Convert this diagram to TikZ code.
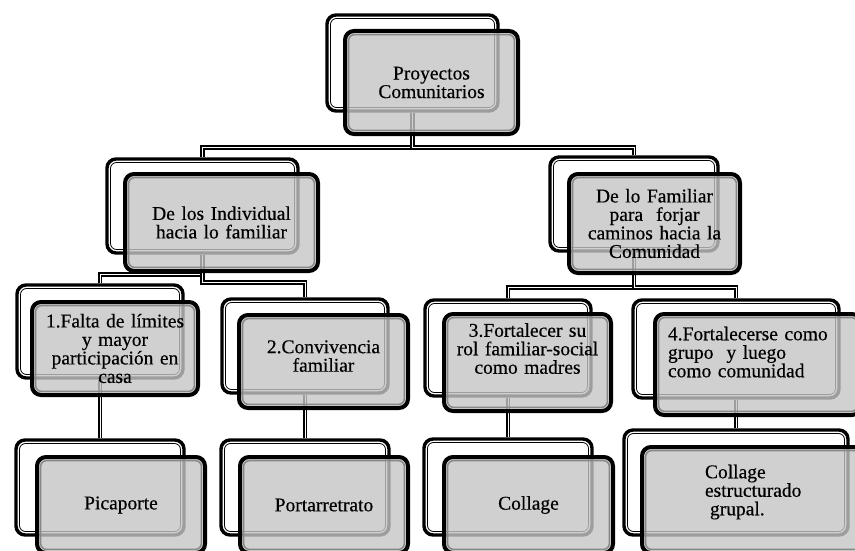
\documentclass[tikz,border=0pt]{standalone}
\usepackage{fontspec}
\setmainfont{Liberation Serif}[FakeBold=0.4]
\usepackage{xcolor}
\usetikzlibrary{positioning}
\definecolor{boxgray}{RGB}{197,197,197}
\definecolor{rimgray}{RGB}{135,135,135}

\begin{document}
\begin{tikzpicture}[x=1pt, y=-1pt,
    every node/.style={font=\fontsize{19.5}{18.5}\selectfont, inner xsep=4pt, inner ysep=3pt},
    boxsize/.style 2 args={minimum width=#1pt, minimum height=#2pt},
    backframe/.style={draw=black, line width=3.4pt, fill=white, rounded corners=9pt},
    frontbox/.style={draw=black, line width=4pt, fill=boxgray, fill opacity=.8, text opacity=1, rounded corners=9pt, align=center},
    backrim/.style={draw=black, line width=.8pt, rounded corners=6pt},
    frontrim/.style={draw=rimgray, line width=1.5pt, rounded corners=6pt},
    link/.style={draw=black, line width=1.8pt, double=white, double distance=.9pt}]
    \useasboundingbox (0,0) rectangle (855,551);
    \clip (0,0) rectangle (855,551);

    % Back frames (white, double border)
    \node[backframe, boxsize={171}{96}] (topb) at (412.5,63) {};
    \node[backframe, boxsize={191}{94}] (indb) at (202.5,206) {};
    \node[backframe, boxsize={168}{94}] (famb) at (634,204) {};
    \node[backframe, boxsize={166}{93}] (f1b) at (100,331.5) {};
    \node[backframe, boxsize={166}{94}] (f2b) at (305,346) {};
    \node[backframe, boxsize={166}{96}] (f3b) at (508,348) {};
    \node[backframe, boxsize={206}{98}] (f4b) at (736,349) {};
    \node[backframe, boxsize={168}{95}] (picb) at (100,487.5) {};
    \node[backframe, boxsize={168}{95}] (porb) at (305,487.5) {};
    \node[backframe, boxsize={168}{96}] (colb) at (508,487) {};
    \node[backframe, boxsize={224}{105}] (cogb) at (736,482.5) {};
    \foreach \n in {topb,indb,famb,f1b,f2b,f3b,f4b,picb,porb,colb,cogb}
        \draw[backrim] ([shift={(5.2pt,-5.2pt)}]\n.north west) rectangle ([shift={(-5.2pt,5.2pt)}]\n.south east);

    % Connectors
    \draw[link] (topb.south) -- ++(0,35) -| (indb.north);
    \draw[link] (topb.south) -- ++(0,35) -| (famb.north);
    \draw[link] (indb.south) -- ++(0,20) -| (f1b.north);
    \draw[link] (indb.south) -- ++(0,28) -| (f2b.north);
    \draw[link] (famb.south) -- ++(0,35) -| (f3b.north);
    \draw[link] (famb.south) -- ++(0,35) -| (f4b.north);
    \draw[link] (f1b.south) -- (picb.north);
    \draw[link] (f2b.south) -- (porb.north);
    \draw[link] (f3b.south) -- (colb.north);
    \draw[link] (f4b.south) -- (cogb.north);

    % Front boxes (gray)
    \node[frontbox, boxsize={173}{103}, text width=150pt] (top) at (431.5,82.5) {Proyectos\\Comunitarios};
    \node[frontbox, boxsize={193}{97}, text width=170pt] (ind) at (221.5,222.5) {De los Individual\\hacia lo familiar};
    \node[frontbox, boxsize={171}{99}, text width=150pt] (fam) at (654.5,223.5) {De lo Familiar\\para~ forjar\\caminos hacia la\\Comunidad};
    \node[frontbox, boxsize={166}{93}, text width=150pt] (f1) at (115,348.5) {1.Falta de límites\\y mayor\\participación en\\casa};
    \node[frontbox, boxsize={169}{93}, text width=150pt, text depth=29.5pt] (f2) at (323.5,361.5) {2.Convivencia\\familiar};
    \node[frontbox, boxsize={167}{97}, text width=158pt, text depth=65pt] (f3) at (527.5,362.5) {3.Fortalecer su\\rol familiar-social\\como madres};
    \node[frontbox, boxsize={206}{101}, text width=180pt, text depth=62pt, align=left] (f4) at (758,364.5) {4.Fortalecerse como\\grupo~ y luego\\como comunidad};
    \node[frontbox, boxsize={168}{96}, text width=150pt] (pic) at (121,505) {Picaporte};
    \node[frontbox, boxsize={168}{96}, text width=150pt] (por) at (324,505) {Portarretrato};
    \node[frontbox, boxsize={169}{96}, text width=150pt] (col) at (528.5,505) {Collage};
    \node[frontbox, boxsize={228}{106}, text width=102pt, text depth=57pt, align=left] (cog) at (756,500) {Collage\\estructurado\\\hspace*{5pt}grupal.};
    \foreach \n in {top,ind,fam,f1,f2,f3,f4,pic,por,col,cog}
        \draw[frontrim] ([shift={(5.6pt,-5.6pt)}]\n.north west) rectangle ([shift={(-5.6pt,5.6pt)}]\n.south east);
\end{tikzpicture}
\end{document}
